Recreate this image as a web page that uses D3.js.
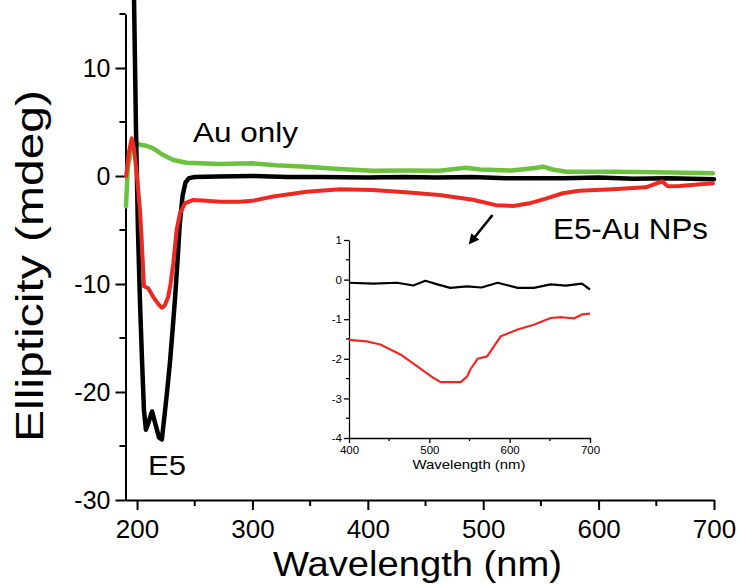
<!DOCTYPE html>
<html>
<head>
<meta charset="utf-8">
<script src="https://cdn.jsdelivr.net/npm/d3@7"></script>
<style>
  html, body { margin: 0; padding: 0; background: #fff; }
  svg { display: block; font-family: 'Liberation Sans', Arial, sans-serif; }
  .axis path, .axis line { stroke: #000; }
  .axis text { fill: #000; }
</style>
</head>
<body>
<svg id="chart"></svg>
<script>
// main panel, wavelength (nm) vs ellipticity (mdeg)
const e5Wl = [196, 197.4, 199.1, 200.8, 202.5, 204.3, 206, 207.7, 210, 213, 216, 219, 221.5, 224, 226, 228.5, 231, 233, 235, 237, 239.5, 242, 245, 250,
  270, 300, 330, 360, 400, 430, 460, 490, 520, 545, 570, 600, 630, 660, 700];
const e5Val = [22, 16.3, 4.3, -5, -11.5, -17, -21.7, -23.5, -22.8, -21.8, -23, -24.2, -24.4, -22, -20, -17.3, -14, -11.2, -8, -4.5, -1.8, -0.6, -0.2, -0.1,
  -0.05, 0, -0.1, -0.1, -0.15, -0.1, -0.15, -0.1, -0.2, -0.2, -0.2, -0.15, -0.25, -0.2, -0.3];

const npWl = [190.5, 193, 195.4, 197, 199.7, 202.5, 204, 206, 209.7, 212, 214, 218, 221.3, 224, 227, 229, 231.4, 234.3, 237.2, 241.5, 248.7, 260, 271.8,
  289, 300, 318, 347, 376, 404, 433, 462, 491, 511, 526, 540, 555, 569, 583, 612, 641, 655, 660, 670, 699];
const npVal = [0, 2.2, 3.5, 2.8, 0.3, -3.1, -5.9, -10.2, -10.4, -10.8, -11.2, -11.8, -12.2, -12, -11.2, -10, -8.1, -5, -3.45, -2.53, -2.22, -2.3, -2.38,
  -2.38, -2.3, -1.9, -1.45, -1.23, -1.3, -1.51, -1.76, -2.2, -2.7, -2.78, -2.53, -2.07, -1.6, -1.36, -1.23, -1.05, -0.5, -0.95, -0.93, -0.68];

const auWl = [190.4, 192, 195, 200, 203, 208, 214, 222.7, 231.4, 243, 272, 300, 320, 347, 375, 404, 430, 462, 475, 485, 497, 525, 545, 552, 560, 572, 612, 650, 699];
const auVal = [-2.8, 0.8, 2.5, 3.0, 2.9, 2.8, 2.56, 1.94, 1.48, 1.23, 1.11, 1.17, 1.0, 0.86, 0.65, 0.49, 0.5, 0.49, 0.65, 0.77, 0.6, 0.5, 0.75, 0.86, 0.6, 0.4, 0.4, 0.35, 0.25];

// inset, 400-700 nm
const inWl = [400, 422, 439, 464, 485, 505, 514, 539, 547, 551, 560, 572, 589, 610, 630, 651, 665, 680, 690, 700];
const inNp = [-1.52, -1.56, -1.64, -1.89, -2.19, -2.48, -2.59, -2.59, -2.45, -2.27, -2.0, -1.94, -1.43, -1.26, -1.14, -0.97, -0.95, -0.98, -0.88, -0.86];
const inE5Wl = [400, 430, 460, 480, 495, 510, 526, 547, 565, 585, 610, 630, 651, 670, 690, 700];
const inE5 = [-0.08, -0.1, -0.08, -0.15, -0.03, -0.12, -0.21, -0.17, -0.2, -0.08, -0.21, -0.21, -0.12, -0.15, -0.1, -0.25];

const xMajor = [200, 300, 400, 500, 600, 700];
const xMinor = [250, 350, 450, 550, 650];
const yMajor = [-30, -20, -10, 0, 10];
const yMinor = [-25, -15, -5, 5, 15];
const inXMajor = [400, 500, 600, 700];
const inXMinor = [450, 550, 650];
const inYMajor = [-4, -3, -2, -1, 0, 1];
const inYMinor = [-3.5, -2.5, -1.5, -0.5, 0.5];

const width = 737;
const height = 584;

const svg = d3.select('#chart')
  .attr('width', width)
  .attr('height', height);

const xScale = d3.scaleLinear().domain([190, 700]).range([125.5, 714]);
const yScale = d3.scaleLinear().domain([-30, 15]).range([500, 14]);

const zip = (xs, ys) => xs.map((d, i) => [d, ys[i]]);
const plain = d => String(d);

function drawAxes(g, x, y, opt) {
  const xa = g.append('g')
    .attr('class', 'axis')
    .attr('transform', `translate(0, ${y.range()[0]})`);
  xa.call(d3.axisBottom(x).tickValues(opt.xMajor).tickFormat(plain)
    .tickSize(opt.major).tickSizeOuter(0).tickPadding(opt.xPad));
  xa.append('g').selectAll('line').data(opt.xMinor).join('line')
    .attr('x1', d => x(d)).attr('x2', d => x(d))
    .attr('y1', 0).attr('y2', opt.minor)
    .attr('stroke', '#000').attr('stroke-width', opt.sw);

  const ya = g.append('g')
    .attr('class', 'axis')
    .attr('transform', `translate(${x.range()[0]}, 0)`);
  ya.call(d3.axisLeft(y).tickValues(opt.yMajor).tickFormat(plain)
    .tickSize(opt.major).tickSizeOuter(0).tickPadding(opt.yPad));
  ya.append('g').selectAll('line').data(opt.yMinor).join('line')
    .attr('y1', d => y(d)).attr('y2', d => y(d))
    .attr('x1', 0).attr('x2', -opt.minor)
    .attr('stroke', '#000').attr('stroke-width', opt.sw);

  g.selectAll('.axis path, .axis line').attr('stroke-width', opt.sw);
  g.selectAll('.axis text')
    .attr('font-size', opt.font)
    .attr('font-family', "'Liberation Sans', Arial, sans-serif");
  xa.selectAll('.tick text').attr('font-size', opt.xFont || opt.font);
}

const main = svg.append('g');
drawAxes(main, xScale, yScale, {
  xMajor, xMinor, yMajor, yMinor,
  major: 10, minor: 6, sw: 2, font: 25, xFont: 26, xPad: 10, yPad: 5
});

const line = d3.line()
  .x(d => xScale(d[0]))
  .y(d => yScale(d[1]));

const series = [
  { pts: zip(auWl, auVal), color: '#6cc13f', w: 4.5 },
  { pts: zip(e5Wl, e5Val), color: '#000000', w: 4.5 },
  { pts: zip(npWl, npVal), color: '#ee2922', w: 4 }
];

main.selectAll('path.series').data(series).join('path')
  .attr('class', 'series')
  .attr('fill', 'none')
  .attr('stroke', d => d.color)
  .attr('stroke-width', d => d.w)
  .attr('stroke-linejoin', 'round')
  .attr('stroke-linecap', 'round')
  .attr('d', d => line(d.pts));

// labels
const label = (txt, x, y, size, len) => svg.append('text')
  .attr('x', x).attr('y', y)
  .attr('font-size', size)
  .attr('textLength', len)
  .attr('lengthAdjust', 'spacingAndGlyphs')
  .text(txt);

label('Au only', 193, 141.5, 28, 105);
label('E5-Au NPs', 553, 239, 29, 155);
label('E5', 148, 475, 28, 38);

svg.append('text')
  .attr('x', 417.5).attr('y', 576)
  .attr('text-anchor', 'middle')
  .attr('font-size', 35)
  .attr('textLength', 289)
  .attr('lengthAdjust', 'spacingAndGlyphs')
  .text('Wavelength (nm)');

svg.append('text')
  .attr('transform', 'translate(43, 266) rotate(-90)')
  .attr('text-anchor', 'middle')
  .attr('font-size', 39)
  .attr('textLength', 352)
  .attr('lengthAdjust', 'spacingAndGlyphs')
  .text('Ellipticity (mdeg)');

// arrow pointing to the inset
svg.append('defs').append('marker')
  .attr('id', 'head')
  .attr('viewBox', '0 0 10 10')
  .attr('refX', 5).attr('refY', 5)
  .attr('markerWidth', 4).attr('markerHeight', 4)
  .attr('orient', 'auto')
  .append('path')
  .attr('d', 'M0,0L10,5L0,10z')
  .attr('fill', '#000');

svg.append('line')
  .attr('x1', 492.5).attr('y1', 215)
  .attr('x2', 472).attr('y2', 240.5)
  .attr('stroke', '#000')
  .attr('stroke-width', 2.6)
  .attr('marker-end', 'url(#head)');

// inset
const ix = d3.scaleLinear().domain([400, 700]).range([349, 590]);
const iy = d3.scaleLinear().domain([-4, 1]).range([438, 240]);

const inset = svg.append('g');
drawAxes(inset, ix, iy, {
  xMajor: inXMajor, xMinor: inXMinor, yMajor: inYMajor, yMinor: inYMinor,
  major: 5, minor: 3, sw: 1.3, font: 11.5, xPad: 3, yPad: 2
});

const iline = d3.line()
  .x(d => ix(d[0]))
  .y(d => iy(d[1]));

inset.selectAll('path.series').data([
  { pts: zip(inE5Wl, inE5), color: '#000000' },
  { pts: zip(inWl, inNp), color: '#ee2922' }
]).join('path')
  .attr('class', 'series')
  .attr('fill', 'none')
  .attr('stroke', d => d.color)
  .attr('stroke-width', 2.2)
  .attr('stroke-linejoin', 'round')
  .attr('d', d => iline(d.pts));

svg.append('text')
  .attr('x', 469).attr('y', 469)
  .attr('text-anchor', 'middle')
  .attr('font-size', 13)
  .attr('textLength', 113)
  .attr('lengthAdjust', 'spacingAndGlyphs')
  .text('Wavelength (nm)');
</script>
</body>
</html>
